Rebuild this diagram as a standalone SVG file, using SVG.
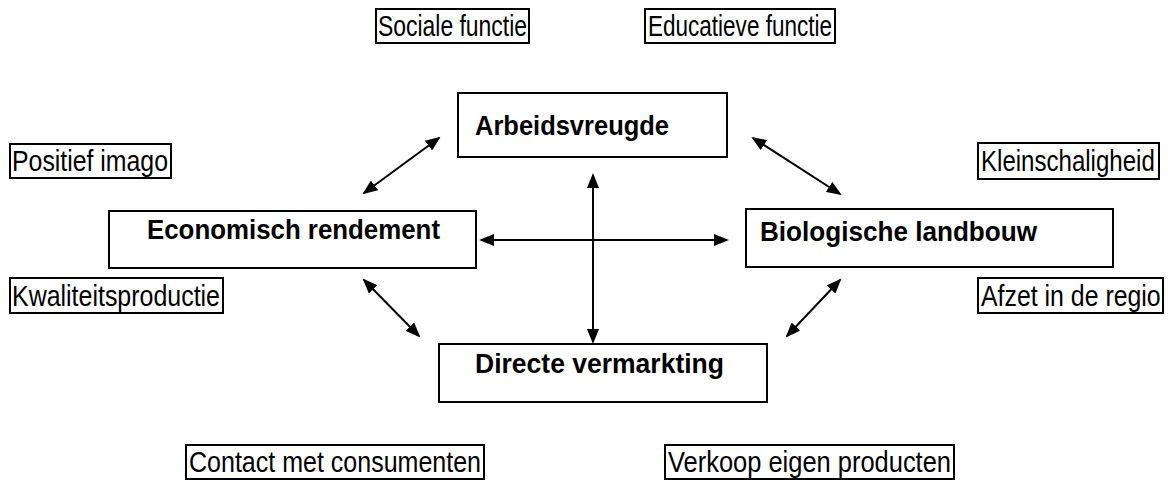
<svg xmlns="http://www.w3.org/2000/svg" width="1168" height="482" viewBox="0 0 1168 482">
  <style>
    .box { fill: #fff; stroke: #000; stroke-width: 2; }
    .tag { fill: none; stroke: #000; stroke-width: 2; }
    .lbl { font-family: "Liberation Sans", Arial, sans-serif; font-size: 29px; fill: #000; }
    .ttl { font-family: "Liberation Sans", Arial, sans-serif; font-size: 28px; font-weight: bold; fill: #000; }
    .link { stroke: #000; stroke-width: 2; fill: none; marker-start: url(#head); marker-end: url(#head); }
  </style>
  <defs>
    <marker id="head" viewBox="0 0 15 12" refX="13" refY="6" markerWidth="15" markerHeight="12" markerUnits="userSpaceOnUse" orient="auto-start-reverse">
      <path d="M0,0 L15,6 L0,12 z" fill="#000"/>
    </marker>
  </defs>

  <rect width="1168" height="482" fill="#fff"/>

  <!-- main concepts -->
  <g id="arbeidsvreugde">
    <rect class="box" x="458" y="93" width="269" height="64"/>
    <text class="ttl" x="475" y="135" textLength="194" lengthAdjust="spacingAndGlyphs">Arbeidsvreugde</text>
  </g>
  <g id="economisch-rendement">
    <rect class="box" x="109" y="211" width="367" height="57"/>
    <text class="ttl" x="147" y="239" textLength="293" lengthAdjust="spacingAndGlyphs">Economisch rendement</text>
  </g>
  <g id="biologische-landbouw">
    <rect class="box" x="746" y="209" width="367" height="58"/>
    <text class="ttl" x="760" y="241" textLength="277" lengthAdjust="spacingAndGlyphs">Biologische landbouw</text>
  </g>
  <g id="directe-vermarkting">
    <rect class="box" x="439" y="344" width="328" height="58"/>
    <text class="ttl" x="475" y="373" textLength="249" lengthAdjust="spacingAndGlyphs">Directe vermarkting</text>
  </g>

  <!-- side labels -->
  <g id="sociale-functie">
    <rect class="tag" x="376" y="9" width="153" height="34"/>
    <text class="lbl" x="378" y="36" textLength="149" lengthAdjust="spacingAndGlyphs">Sociale functie</text>
  </g>
  <g id="educatieve-functie">
    <rect class="tag" x="645" y="9" width="190" height="34"/>
    <text class="lbl" x="648" y="36" textLength="184" lengthAdjust="spacingAndGlyphs">Educatieve functie</text>
  </g>
  <g id="positief-imago">
    <rect class="tag" x="10" y="144" width="161" height="34"/>
    <text class="lbl" x="12" y="171" textLength="156" lengthAdjust="spacingAndGlyphs">Positief imago</text>
  </g>
  <g id="kleinschaligheid">
    <rect class="tag" x="978" y="143" width="181" height="36"/>
    <!-- narrowed horizontally so the label fits its frame -->
    <text class="lbl" transform="translate(981 171) scale(0.83 1)">Kleinschaligheid</text>
  </g>
  <g id="kwaliteitsproductie">
    <rect class="tag" x="10" y="278" width="213" height="35"/>
    <text class="lbl" x="12" y="306" textLength="208" lengthAdjust="spacingAndGlyphs">Kwaliteitsproductie</text>
  </g>
  <g id="afzet-in-de-regio">
    <rect class="tag" x="978" y="278" width="185" height="35"/>
    <text class="lbl" transform="translate(981 306) scale(0.858 1)">Afzet in de regio</text>
  </g>
  <g id="contact-met-consumenten">
    <rect class="tag" x="186" y="445" width="298" height="34"/>
    <text class="lbl" x="189" y="472" textLength="292" lengthAdjust="spacingAndGlyphs">Contact met consumenten</text>
  </g>
  <g id="verkoop-eigen-producten">
    <rect class="tag" x="665" y="445" width="289" height="34"/>
    <text class="lbl" x="668" y="472" textLength="283" lengthAdjust="spacingAndGlyphs">Verkoop eigen producten</text>
  </g>

  <!-- two-way connectors -->
  <g id="connectors">
    <line class="link" x1="364" y1="193" x2="439" y2="138"/>
    <line class="link" x1="753" y1="138" x2="840" y2="194"/>
    <line class="link" x1="481" y1="240" x2="727" y2="240"/>
    <line class="link" x1="593" y1="175" x2="593" y2="342"/>
    <line class="link" x1="364" y1="280" x2="419" y2="336"/>
    <line class="link" x1="787" y1="336" x2="840" y2="280"/>
  </g>
</svg>
